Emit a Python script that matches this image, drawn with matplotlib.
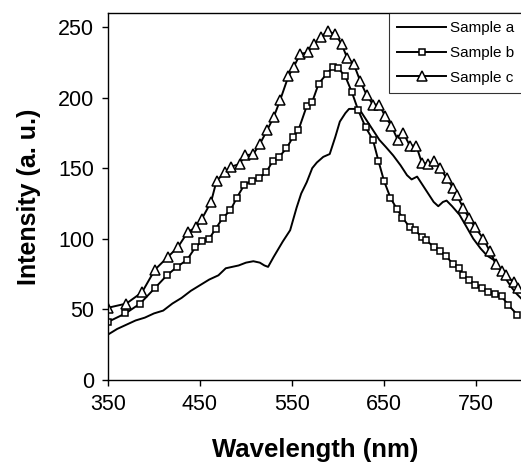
import matplotlib
matplotlib.use("Agg")
import matplotlib.pyplot as plt

plt.rcParams["font.family"] = ["Liberation Sans", "DejaVu Sans"]

# Sample a: plain line
wl_a = [350, 360, 370, 380, 390, 400, 410, 414, 420, 430, 440, 450, 460, 470, 478,
        485, 492, 500, 508, 515, 520, 524, 530, 540, 548, 555, 560, 566, 572, 577,
        584, 591, 597, 602, 608, 612, 620, 625, 632, 638, 645, 652, 660, 668, 675,
        680, 686, 692, 698, 704, 709, 714, 718, 724, 732, 740, 747, 755, 762, 769,
        776, 782, 788, 794, 800]
int_a = [32, 36, 39, 42, 44, 47, 49, 51, 54, 58, 63, 67, 71, 74, 79,
         80, 81, 83, 84, 83, 81, 80, 87, 98, 106, 122, 132, 140, 150, 154,
         158, 160, 172, 183, 189, 192, 192, 190, 183, 177, 170, 165, 159, 152, 145,
         142, 144, 138, 132, 126, 123, 126, 127, 123, 117, 108, 100, 93, 88, 85,
         78, 72, 66, 61, 57]

# Sample b: squares
wl_b = [350, 369, 385, 401, 414, 425, 436, 445, 452, 460, 467, 475, 483, 490, 498,
        506, 514, 522, 529, 536, 544, 551, 557, 566, 572, 579, 588, 595, 600, 608,
        615, 622, 630, 638, 644, 650, 657, 664, 670, 678, 684, 691, 696, 704, 711,
        717, 725, 731, 736, 742, 749, 756, 763, 771, 778, 785, 795]
int_b = [41, 47, 54, 65, 74, 80, 85, 94, 98, 100, 107, 115, 120, 129, 138,
         141, 143, 147, 155, 158, 164, 172, 177, 194, 197, 210, 217, 222, 221, 215,
         204, 191, 179, 170, 155, 141, 129, 121, 115, 108, 106, 101, 99, 94, 91,
         88, 82, 79, 74, 71, 67, 65, 62, 61, 59, 53, 46]

# Sample c: triangles
wl_c = [350, 370, 387, 401, 415, 426, 437, 446, 452, 462, 468, 477, 484, 493, 499,
        508, 515, 523, 530, 537, 546, 552, 559, 567, 574, 581, 589, 597, 604, 610,
        617, 624, 631, 638, 645, 651, 658, 665, 671, 678, 685, 691, 698, 704, 711,
        718, 725, 729, 736, 742, 749, 758, 765, 772, 778, 783, 791, 796]
int_c = [51, 54, 62, 78, 87, 94, 105, 108, 114, 126, 141, 147, 151, 153, 159,
         160, 167, 177, 186, 198, 215, 222, 231, 232, 238, 243, 247, 245, 238, 228,
         224, 212, 202, 195, 195, 187, 180, 170, 175, 166, 166, 154, 153, 155, 150,
         143, 136, 131, 122, 115, 108, 100, 91, 82, 77, 74, 69, 65]

x_ticks = [350, 450, 550, 650, 750]
y_ticks = [0, 50, 100, 150, 200, 250]

fig = plt.figure(figsize=(5.21, 4.66), dpi=100)
ax = fig.add_axes([108 / 521, 1 - 379.7 / 466, 414 / 521, (379.7 - 13) / 466])

ax.plot(wl_a, int_a, color="black", lw=1.4, label="Sample a")
ax.plot(wl_b, int_b, color="black", lw=1.4, marker="s", ms=5, mfc="white",
        mec="black", mew=1.1, label="Sample b")
ax.plot(wl_c, int_c, color="black", lw=1.4, marker="^", ms=6.5, mfc="white",
        mec="black", mew=1.1, label="Sample c")

ax.set_xlim(350, 800)
ax.set_ylim(0, 260)
ax.set_xticks(x_ticks)
ax.set_yticks(y_ticks)
ax.tick_params(direction="out", length=4, width=1, labelsize=15.5, pad=6)
for side in ["left", "bottom", "top"]:
    ax.spines[side].set_linewidth(1)
ax.spines["right"].set_visible(False)
ax.set_xlabel("Wavelength (nm)", fontsize=18.5, fontweight="bold", labelpad=17)
ax.set_ylabel("Intensity (a. u.)", fontsize=18, fontweight="bold", labelpad=12)

leg = ax.legend(loc="upper left", bbox_to_anchor=(389 / 521, 1 - 13 / 466),
                bbox_transform=fig.transFigure, fontsize=11, frameon=True,
                fancybox=False, handlelength=3.2, borderaxespad=0,
                borderpad=0.55, labelspacing=0.7, handletextpad=0.25)
leg.get_frame().set_edgecolor("black")
leg.get_frame().set_linewidth(0.8)

fig.savefig("out.png", dpi=100)
